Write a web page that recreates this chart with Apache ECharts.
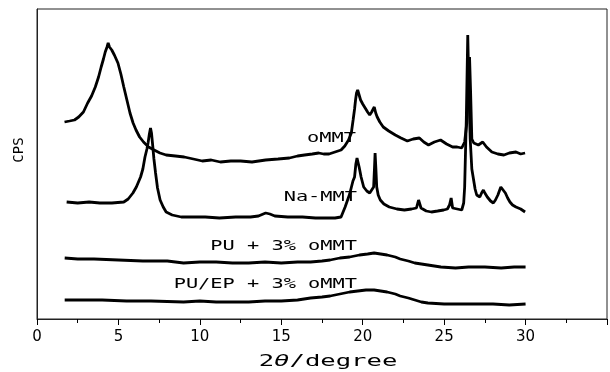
<!DOCTYPE html>
<html>
<head>
<meta charset="utf-8">
<script src="https://cdn.jsdelivr.net/npm/echarts@6/dist/echarts.min.js"></script>
<style>
    html, body { margin: 0; padding: 0; background: #fff; }
    #chart { width: 610px; height: 372px; }
</style>
</head>
<body>
<div id="chart"></div>
<script>
// x ticks
var xTicks = [0, 5, 10, 15, 20, 25, 30];

// oMMT
var ommtDeg = [1.69,2.0,2.3,2.56,2.85,3.11,3.35,3.58,3.78,3.94,4.08,4.19,4.3,4.37,4.45,4.59,4.75,4.97,5.15,5.33,5.52,5.71,5.9,6.08,6.3,6.54,6.85,7.19,7.55,7.93,8.5,9.04,9.6,10.15,10.7,11.26,11.9,12.5,13.2,14.04,14.8,15.5,16.0,16.43,16.9,17.3,17.6,17.93,18.3,18.67,18.9,19.13,19.3,19.41,19.5,19.56,19.62,19.69,19.78,19.87,20.0,20.15,20.3,20.43,20.55,20.71,20.8,20.89,21.05,21.26,21.6,22.0,22.35,22.74,23.1,23.48,23.75,24.04,24.4,24.78,25.15,25.52,25.8,26.08,26.26,26.39,26.5,26.56,26.62,26.7,26.82,27.1,27.37,27.6,27.93,28.3,28.67,29.0,29.41,29.7,29.97];
var ommtCps = [197,198,199,202,207,216,223,232,242,252,260,267,272,276,272,269,264,256,245,232,219,206,196,189,182,177,172,169,166,164,163,162,160,158,159,157,158,158,157,159,160,161,163,164,165,166,165,165,167,169,173,179,186,199,210,219,226,229,224,219,215,211,207,204,207,212,206,202,197,192,188,184,181,178,180,181,177,174,177,179,175,172,172,171,177,196,240,262,230,180,176,174,177,172,167,165,164,166,167,165,166];

// Na-MMT
var nammtDeg = [1.82,2.5,3.2,3.86,4.6,5.33,5.6,5.89,6.1,6.36,6.5,6.63,6.75,6.82,6.9,6.97,7.03,7.09,7.18,7.28,7.4,7.56,7.75,7.93,8.3,8.86,9.6,10.33,11.2,12.2,13.11,13.6,14.04,14.3,14.6,15.4,16.3,17.1,17.93,18.3,18.67,18.92,19.2,19.4,19.5,19.58,19.65,19.78,19.9,20.06,20.25,20.43,20.55,20.67,20.72,20.76,20.81,20.86,20.95,21.08,21.3,21.63,22.1,22.56,23.0,23.3,23.43,23.58,23.9,24.22,24.6,24.97,25.2,25.33,25.43,25.52,25.8,26.08,26.2,26.26,26.36,26.45,26.52,26.6,26.7,26.78,26.9,27.0,27.19,27.3,27.41,27.5,27.65,27.85,28.02,28.15,28.3,28.48,28.6,28.76,28.9,29.04,29.2,29.41,29.7,29.97];
var nammtCps = [117,116,117,116,116,117,120,126,132,142,150,162,170,176,185,191,186,176,160,146,131,119,112,107,104,102,102,102,101,102,102,103,106,105,103,102,102,101,101,101,102,112,125,138,142,155,161,152,142,132,128,126,128,132,150,166,150,132,124,119,115,112,110,109,110,111,119,111,108,107,108,109,110,114,121,111,110,109,116,132,199,284,230,180,150,142,130,124,122,126,129,126,122,118,116,119,124,132,130,126,121,117,114,112,110,107];

// PU + 3% oMMT
var puDeg = [1.7,2.5,3.5,5,6.5,8,9,10,11,12,13,14,15,16,16.8,17.5,18,18.6,19.2,19.8,20.3,20.7,21.1,21.5,22,22.3,22.8,23.2,23.6,24,24.8,25.7,26.5,27.5,28.5,29.3,30];
var puCps = [61,60,60,59,58,58,56,57,57,56,56,57,56,57,57,58,59,61,62,64,65,66,65,64,62,60,58,56,55,54,52,51,52,52,51,52,52];

// PU/EP + 3% oMMT
var puepDeg = [1.7,3,4,5.5,7,9,10,11,12,13,14,15,16,16.8,17.5,18,18.6,19.2,19.7,20.2,20.7,21.1,21.5,22,22.3,22.8,23.2,23.6,24,25,25.7,27,28,29,30];
var puepCps = [19,19,19,18,18,17,18,17,17,17,18,18,19,21,22,23,25,27,28,29,29,28,27,25,23,21,19,17,16,15,15,15,15,14,15];

function pairs(xs, ys) {
    var out = [];
    for (var i = 0; i < xs.length; i++) {
        out.push([xs[i], ys[i]]);
    }
    return out;
}

function curve(name, xs, ys) {
    return {
        name: name,
        type: 'line',
        data: pairs(xs, ys),
        showSymbol: false,
        smooth: false,
        silent: true,
        lineStyle: { color: '#000', width: 2.8 }
    };
}

function label(text, x, y) {
    return {
        type: 'text',
        x: x,
        y: y,
        scaleX: 1.45,
        style: {
            text: text,
            font: '14px "DejaVu Sans Mono"',
            fill: '#000',
            textAlign: 'right',
            textVerticalAlign: 'middle'
        }
    };
}

var myChart = echarts.init(document.getElementById('chart'));
var option = {
    animation: false,
    backgroundColor: '#fff',
    grid: {
        left: 37,
        top: 9,
        width: 630,
        height: 310,
        show: true,
        borderColor: '#222',
        borderWidth: 1
    },
    xAxis: {
        type: 'value',
        min: 0,
        max: 35,
        interval: 5,
        axisLine: { lineStyle: { color: '#222', width: 1 } },
        axisTick: { inside: false, length: 6, lineStyle: { color: '#000' } },
        minorTick: { show: true, splitNumber: 2, length: 4, lineStyle: { color: '#000' } },
        splitLine: { show: false },
        axisLabel: {
            margin: 11,
            color: '#000',
            fontSize: 15,
            fontFamily: 'DejaVu Sans',
            formatter: function (v) { return xTicks.indexOf(v) >= 0 ? String(v) : ''; }
        }
    },
    yAxis: {
        type: 'value',
        min: 0,
        max: 310,
        axisLine: { show: true, lineStyle: { color: '#222', width: 1 } },
        axisTick: { show: false },
        axisLabel: { show: false },
        splitLine: { show: false }
    },
    series: [
        curve('oMMT', ommtDeg, ommtCps),
        curve('Na-MMT', nammtDeg, nammtCps),
        curve('PU + 3% oMMT', puDeg, puCps),
        curve('PU/EP + 3% oMMT', puepDeg, puepCps)
    ],
    graphic: [
        label('oMMT', 356, 138),
        label('Na-MMT', 357, 197),
        label('PU + 3% oMMT', 357, 246),
        label('PU/EP + 3% oMMT', 357, 284),
        {
            type: 'text',
            x: 19,
            y: 150,
            rotation: Math.PI / 2,
            style: {
                text: 'CPS',
                font: '14px "DejaVu Sans Mono"',
                fill: '#000',
                textAlign: 'center',
                textVerticalAlign: 'middle'
            }
        },
        {
            type: 'text',
            x: 328,
            y: 362,
            scaleX: 1.6,
            style: {
                text: '2{i|θ}/degree',
                font: '16px "DejaVu Sans Mono"',
                fill: '#000',
                textAlign: 'center',
                textVerticalAlign: 'middle',
                rich: {
                    i: { fontStyle: 'italic', fontSize: 16, fontFamily: 'DejaVu Sans Mono' }
                }
            }
        }
    ]
};
myChart.setOption(option);
</script>
</body>
</html>
